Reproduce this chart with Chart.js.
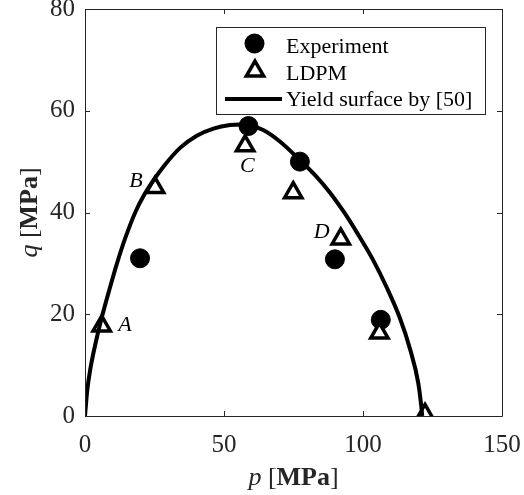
<!DOCTYPE html>
<html>
<head>
<meta charset="utf-8">
<script src="https://cdn.jsdelivr.net/npm/chart.js@4.4.0/dist/chart.umd.min.js"></script>
<style>
html, body { margin: 0; padding: 0; background: #fff; }
#wrap { width: 524px; height: 495px; }
</style>
</head>
<body>
<div id="wrap"><canvas id="chart" width="524" height="495"></canvas></div>
<script>
// Experiment points (p, q)
const expP = [19.8, 58.8, 77.3, 89.9, 106.4];
const expQ = [31.0, 57.0, 50.0, 30.8, 18.9];
// LDPM points
const ldpmP = [6.0, 25.2, 57.6, 74.9, 92.0, 105.9, 122.3];
const ldpmQ = [17.7, 44.9, 53.1, 43.9, 34.8, 16.3, 0.3];
// yield surface
const yieldP = [0, 0.8, 2, 3.8, 6, 8.6, 11.4, 14.5, 18.3, 21, 24.6, 28.2, 34.2, 40.2, 46.2, 52.2, 56, 60, 64.1, 70, 77.3, 83, 88, 93, 98, 103.7, 108.5, 113.3, 116.9, 119.9, 121.1, 121.3];
const yieldQ = [0, 5, 9.5, 14.3, 19.3, 24.5, 29.8, 35.0, 40.3, 43.2, 46.3, 49.0, 52.7, 55.1, 56.5, 57.2, 57.3, 57.0, 56.2, 54, 50.3, 47.2, 44.0, 40.2, 35.9, 30.6, 25.3, 19.2, 13.2, 6.4, 1.2, 0];
// letters next to LDPM points
const labelNames = ['A', 'B', 'C', 'D'];
const labelP = [14.4, 18.3, 58.4, 85.1];
const labelQ = [17.9, 46.2, 49.1, 36.1];

const xTicks = [0, 50, 100, 150];
const yTicks = [0, 20, 40, 60, 80];

const axisColor = '#262626';
const serif = '"Liberation Serif", "Times New Roman", serif';

function toXY(xs, ys) {
  return xs.map((x, i) => ({ x: x, y: ys[i] }));
}

function drawTriangle(ctx, x, y, r, lw) {
  ctx.beginPath();
  ctx.moveTo(x, y - r);
  ctx.lineTo(x + r * Math.sin(Math.PI / 3), y + r / 2);
  ctx.lineTo(x - r * Math.sin(Math.PI / 3), y + r / 2);
  ctx.closePath();
  ctx.fillStyle = '#fff';
  ctx.fill();
  ctx.lineWidth = lw;
  ctx.strokeStyle = '#000';
  ctx.stroke();
}

const extras = {
  id: 'extras',
  afterDraw(chart) {
    const ctx = chart.ctx;
    const a = chart.chartArea;
    const xs = chart.scales.x;
    const ys = chart.scales.y;
    ctx.save();

    // box and inward ticks
    ctx.strokeStyle = axisColor;
    ctx.lineWidth = 1;
    ctx.beginPath();
    ctx.rect(a.left + 0.5, a.top + 0.5, a.right - a.left, a.bottom - a.top);
    ctx.stroke();
    ctx.beginPath();
    xTicks.forEach((t) => {
      const px = Math.round(xs.getPixelForValue(t)) + 0.5;
      ctx.moveTo(px, a.bottom);
      ctx.lineTo(px, a.bottom - 5);
      ctx.moveTo(px, a.top);
      ctx.lineTo(px, a.top + 5);
    });
    yTicks.forEach((t) => {
      const py = Math.round(ys.getPixelForValue(t)) + 0.5;
      ctx.moveTo(a.left, py);
      ctx.lineTo(a.left + 5, py);
      ctx.moveTo(a.right, py);
      ctx.lineTo(a.right - 5, py);
    });
    ctx.stroke();

    // point letters
    ctx.fillStyle = '#000';
    ctx.font = 'italic 22px ' + serif;
    ctx.textAlign = 'center';
    ctx.textBaseline = 'middle';
    labelNames.forEach((n, i) => {
      ctx.fillText(n, xs.getPixelForValue(labelP[i]), ys.getPixelForValue(labelQ[i]));
    });

    // axis titles: italic symbol, bold unit
    function drawTitle(sym, cx, cy) {
      const parts = [
        ['italic 26px ' + serif, sym],
        ['26px ' + serif, ' ['],
        ['bold 26px ' + serif, 'MPa'],
        ['26px ' + serif, ']'],
      ];
      let w = 0;
      parts.forEach((p) => { ctx.font = p[0]; w += ctx.measureText(p[1]).width; });
      let x = cx - w / 2;
      ctx.textAlign = 'left';
      ctx.textBaseline = 'alphabetic';
      ctx.fillStyle = axisColor;
      parts.forEach((p) => {
        ctx.font = p[0];
        ctx.fillText(p[1], x, cy);
        x += ctx.measureText(p[1]).width;
      });
    }
    drawTitle('p', (a.left + a.right) / 2, 485);
    ctx.save();
    ctx.translate(37, (a.top + a.bottom) / 2);
    ctx.rotate(-Math.PI / 2);
    drawTitle('q', 0, 0);
    ctx.restore();

    // legend
    const lx = 216, ly = 27, lw = 269, lh = 87;
    ctx.fillStyle = '#fff';
    ctx.fillRect(lx, ly, lw, lh);
    ctx.strokeStyle = axisColor;
    ctx.lineWidth = 1;
    ctx.strokeRect(lx + 0.5, ly + 0.5, lw, lh);

    ctx.fillStyle = '#000';
    ctx.beginPath();
    ctx.arc(254.5, 43.5, 10, 0, Math.PI * 2);
    ctx.fill();
    drawTriangle(ctx, 255, 71, 10, 3.5);
    ctx.strokeStyle = '#000';
    ctx.lineWidth = 4;
    ctx.beginPath();
    ctx.moveTo(225, 99);
    ctx.lineTo(282, 99);
    ctx.stroke();

    ctx.fillStyle = '#000';
    ctx.font = '22px ' + serif;
    ctx.textAlign = 'left';
    ctx.textBaseline = 'alphabetic';
    ctx.fillText('Experiment', 286, 53);
    ctx.fillText('LDPM', 286, 79.5);
    ctx.fillText('Yield surface by [50]', 286, 106);

    ctx.restore();
  },
};

new Chart(document.getElementById('chart'), {
  type: 'scatter',
  data: {
    datasets: [
      {
        label: 'Yield surface by [50]',
        data: toXY(yieldP, yieldQ),
        showLine: true,
        borderColor: '#000',
        borderWidth: 4,
        pointRadius: 0,
        cubicInterpolationMode: 'monotone',
        order: 0,
      },
      {
        label: 'LDPM',
        data: toXY(ldpmP, ldpmQ),
        pointStyle: 'triangle',
        pointRadius: 10,
        borderWidth: 3.5,
        borderColor: '#000',
        backgroundColor: '#fff',
        order: 1,
      },
      {
        label: 'Experiment',
        data: toXY(expP, expQ),
        pointStyle: 'circle',
        pointRadius: 9.5,
        borderWidth: 1,
        borderColor: '#000',
        backgroundColor: '#000',
        order: 2,
      },
    ],
  },
  options: {
    responsive: false,
    animation: false,
    layout: { autoPadding: false, padding: { left: 0, right: 22, top: 9, bottom: 0 } },
    plugins: {
      legend: { display: false },
      tooltip: { enabled: false },
    },
    scales: {
      x: {
        type: 'linear',
        min: 0,
        max: 150,
        afterBuildTicks: (s) => { s.ticks = xTicks.map((v) => ({ value: v })); },
        afterFit: (s) => {
          s.height = 79;
          s.paddingLeft = 0;
          s.paddingRight = 0;
        },
        grid: { display: false, drawTicks: false },
        border: { display: false },
        ticks: {
          padding: 17,
          color: axisColor,
          font: { family: serif, size: 25, lineHeight: 1 },
        },
      },
      y: {
        type: 'linear',
        min: 0,
        max: 80,
        afterBuildTicks: (s) => { s.ticks = yTicks.map((v) => ({ value: v })); },
        afterFit: (s) => {
          s.width = 85;
          s.paddingTop = 0;
          s.paddingBottom = 0;
        },
        grid: { display: false, drawTicks: false },
        border: { display: false },
        ticks: {
          padding: 10,
          color: axisColor,
          font: { family: serif, size: 25, lineHeight: 1 },
        },
      },
    },
  },
  plugins: [extras],
});
</script>
</body>
</html>
